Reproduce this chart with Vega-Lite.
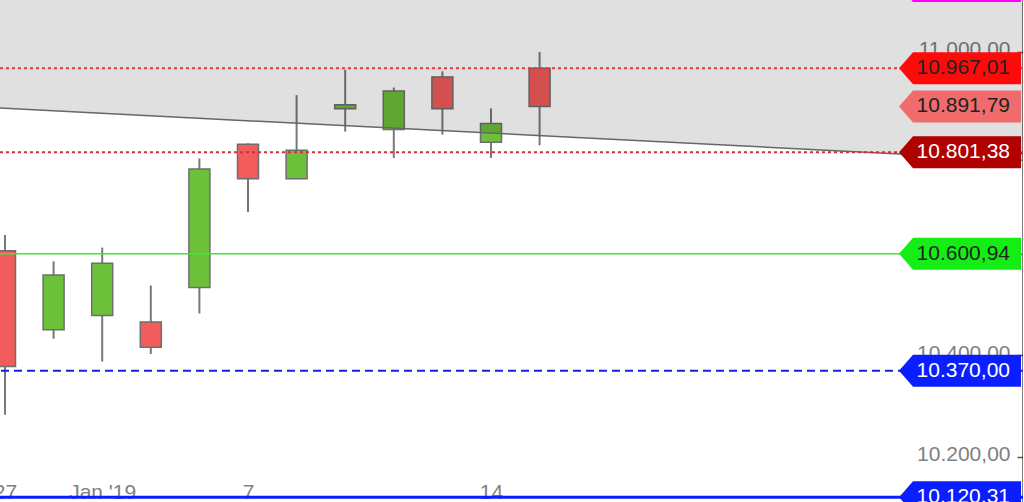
{
  "$schema": "https://vega.github.io/schema/vega-lite/v6.json",
  "width": 1023,
  "height": 502,
  "autosize": {"type": "none"},
  "padding": 0,
  "background": "white",
  "config": {
    "view": {"stroke": null},
    "locale": {"number": {"decimal": ",", "thousands": ".", "grouping": [3], "currency": ["", " €"]}}
  },
  "datasets": {
    "candles": [
      {"i": 0, "date": "2018-12-27", "open": 10607, "high": 10638, "low": 10283, "close": 10378},
      {"i": 1, "date": "2018-12-28", "open": 10451, "high": 10586, "low": 10433, "close": 10559},
      {"i": 2, "date": "2019-01-02", "open": 10479, "high": 10613, "low": 10388, "close": 10582},
      {"i": 3, "date": "2019-01-03", "open": 10466, "high": 10538, "low": 10403, "close": 10416},
      {"i": 4, "date": "2019-01-04", "open": 10534, "high": 10789, "low": 10483, "close": 10768},
      {"i": 5, "date": "2019-01-07", "open": 10817, "high": 10819, "low": 10683, "close": 10749},
      {"i": 6, "date": "2019-01-08", "open": 10749, "high": 10914, "low": 10748, "close": 10805},
      {"i": 7, "date": "2019-01-09", "open": 10887, "high": 10964, "low": 10842, "close": 10895},
      {"i": 8, "date": "2019-01-10", "open": 10846, "high": 10929, "low": 10790, "close": 10922},
      {"i": 9, "date": "2019-01-11", "open": 10950, "high": 10961, "low": 10836, "close": 10887},
      {"i": 10, "date": "2019-01-14", "open": 10821, "high": 10888, "low": 10790, "close": 10858},
      {"i": 11, "date": "2019-01-15", "open": 10967, "high": 10999, "low": 10815, "close": 10891.79}
    ],
    "trend": [
      {"i": -0.1029, "v": 10888.4},
      {"i": 20.947, "v": 10785.4}
    ],
    "levels": [
      {"kind": "magenta", "value": 11129.5},
      {"kind": "high", "value": 10967.01},
      {"kind": "close", "value": 10891.79},
      {"kind": "trend", "value": 10801.38},
      {"kind": "green", "value": 10600.94},
      {"kind": "blue", "value": 10370.00},
      {"kind": "low", "value": 10120.31}
    ]
  },
  "layer": [
    {
      "data": {"name": "candles"},
      "mark": {"type": "rule", "stroke": "#787878", "strokeWidth": 2},
      "encoding": {
        "x": {
          "field": "i", "type": "quantitative",
          "scale": {"domain": [-0.1029, 20.947], "nice": false, "zero": false, "padding": 0},
          "axis": {
            "values": [0, 2, 5, 10],
            "labelExpr": "datum.value == 0 ? '27' : datum.value == 2 ? \"Jan '19\" : datum.value == 5 ? '7' : '14'",
            "ticks": false, "tickSize": 0, "domain": false, "grid": false, "title": null,
            "labelFontSize": 21, "labelColor": "#808080", "labelFont": "Liberation Sans",
            "labelPadding": -4, "labelBaseline": "alphabetic", "labelFlush": false, "labelOverlap": false
          }
        },
        "y": {
          "field": "low", "type": "quantitative",
          "scale": {"domain": [10110.7, 11101.86], "nice": false, "zero": false},
          "axis": {
            "orient": "left", "offset": -1023,
            "values": [10200, 10400, 10600, 10800, 11000],
            "format": ",.2f", "grid": false, "title": null,
            "tickSize": 6, "tickColor": "#555555", "tickWidth": 1.5,
            "domainColor": "#000000", "domainWidth": 2,
            "labelPadding": 7, "labelFontSize": 21, "labelColor": "#808080",
            "labelFont": "Liberation Sans", "labelOffset": -2, "labelOverlap": false
          }
        },
        "y2": {"field": "high"}
      }
    },
    {
      "data": {"name": "candles"},
      "mark": {"type": "bar", "width": 21, "stroke": "#6e6e6e", "strokeWidth": 1.5},
      "encoding": {
        "x": {"field": "i", "type": "quantitative", "scale": {"domain": [-0.1029, 20.947], "nice": false, "zero": false, "padding": 0}},
        "y": {"field": "open", "type": "quantitative", "scale": {"domain": [10110.7, 11101.86], "nice": false, "zero": false}},
        "y2": {"field": "close"},
        "fill": {"condition": {"test": "datum.close > datum.open", "value": "#6cc03a"}, "value": "#f25c5c"}
      }
    },
    {
      "data": {"name": "trend"},
      "mark": {"type": "area", "fill": "#000000", "fillOpacity": 0.12, "stroke": null},
      "encoding": {
        "x": {"field": "i", "type": "quantitative", "scale": {"domain": [-0.1029, 20.947], "nice": false, "zero": false, "padding": 0}},
        "y": {"field": "v", "type": "quantitative", "scale": {"domain": [10110.7, 11101.86], "nice": false, "zero": false}},
        "y2": {"datum": 11110}
      }
    },
    {
      "data": {"name": "trend"},
      "mark": {"type": "line", "stroke": "#666666", "strokeWidth": 1.5},
      "encoding": {
        "x": {"field": "i", "type": "quantitative", "scale": {"domain": [-0.1029, 20.947], "nice": false, "zero": false, "padding": 0}},
        "y": {"field": "v", "type": "quantitative", "scale": {"domain": [10110.7, 11101.86], "nice": false, "zero": false}}
      }
    },
    {
      "data": {"name": "levels"},
      "transform": [{"filter": "datum.kind == 'high'"}],
      "mark": {"type": "rule", "stroke": "#e03a3a", "strokeWidth": 2, "strokeDash": [3, 3]},
      "encoding": {"y": {"field": "value", "type": "quantitative", "scale": {"domain": [10110.7, 11101.86], "nice": false, "zero": false}}}
    },
    {
      "data": {"name": "levels"},
      "transform": [{"filter": "datum.kind == 'trend'"}],
      "mark": {"type": "rule", "stroke": "#cc3333", "strokeWidth": 2, "strokeDash": [3, 3]},
      "encoding": {"y": {"field": "value", "type": "quantitative", "scale": {"domain": [10110.7, 11101.86], "nice": false, "zero": false}}}
    },
    {
      "data": {"name": "levels"},
      "transform": [{"filter": "datum.kind == 'green'"}],
      "mark": {"type": "rule", "stroke": "#2ef02e", "strokeWidth": 1.5},
      "encoding": {"y": {"field": "value", "type": "quantitative", "scale": {"domain": [10110.7, 11101.86], "nice": false, "zero": false}}}
    },
    {
      "data": {"name": "levels"},
      "transform": [{"filter": "datum.kind == 'blue'"}],
      "mark": {"type": "rule", "stroke": "#1b1be6", "strokeWidth": 2, "strokeDash": [8, 5]},
      "encoding": {"y": {"field": "value", "type": "quantitative", "scale": {"domain": [10110.7, 11101.86], "nice": false, "zero": false}}}
    },
    {
      "data": {"name": "levels"},
      "transform": [{"filter": "datum.kind == 'low'"}],
      "mark": {"type": "rule", "stroke": "#0a1eff", "strokeWidth": 3},
      "encoding": {"y": {"field": "value", "type": "quantitative", "scale": {"domain": [10110.7, 11101.86], "nice": false, "zero": false}}}
    },
    {
      "data": {"name": "levels"},
      "mark": {
        "type": "point",
        "shape": "M -1 0 L -0.887 -0.129 L -0.016 -0.129 L -0.016 0.129 L -0.887 0.129 Z",
        "filled": true, "size": 61504, "opacity": 1, "strokeWidth": 0
      },
      "encoding": {
        "x": {"value": "width"},
        "y": {"field": "value", "type": "quantitative", "scale": {"domain": [10110.7, 11101.86], "nice": false, "zero": false}},
        "fill": {
          "field": "kind", "type": "nominal", "legend": null,
          "scale": {
            "domain": ["magenta", "high", "close", "trend", "green", "blue", "low"],
            "range": ["#ff00ff", "#ff0a0a", "#f06c6c", "#b00000", "#14ee14", "#0a1eff", "#0a1eff"]
          }
        }
      }
    },
    {
      "data": {"name": "levels"},
      "mark": {"type": "text", "align": "right", "baseline": "middle", "dx": -13, "fontSize": 21, "font": "Liberation Sans"},
      "encoding": {
        "x": {"value": "width"},
        "y": {"field": "value", "type": "quantitative", "scale": {"domain": [10110.7, 11101.86], "nice": false, "zero": false}},
        "text": {"field": "value", "type": "quantitative", "format": ",.2f"},
        "color": {"condition": {"test": "indexof(['trend','blue','low'], datum.kind) >= 0", "value": "#ffffff"}, "value": "#222222"}
      }
    }
  ]
}
